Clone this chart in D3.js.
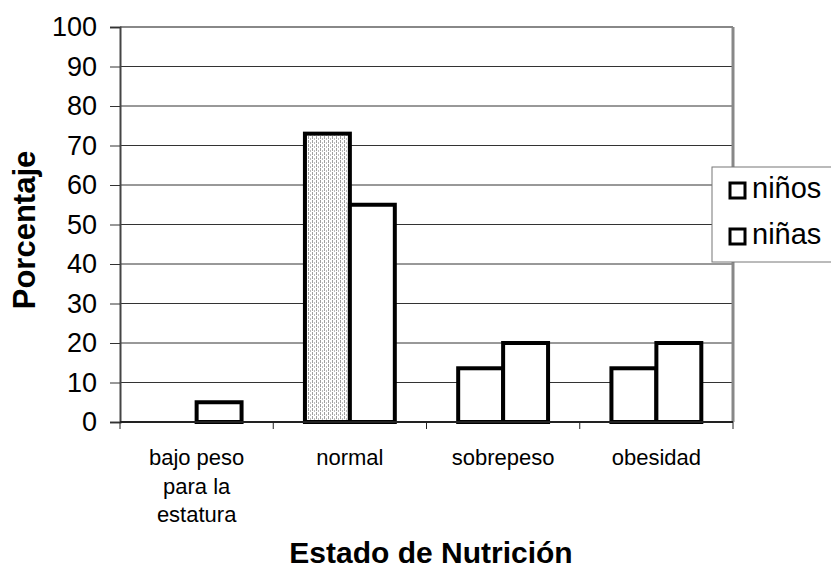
<!DOCTYPE html>
<html>
<head>
<meta charset="utf-8">
<script src="https://cdn.jsdelivr.net/npm/d3@7"></script>
<style>
  html, body { margin: 0; padding: 0; background: #fff; }
  svg { display: block; font-family: "Liberation Sans", Arial, sans-serif; }
</style>
</head>
<body>
<svg id="chart" width="831" height="570"></svg>
<script>
// Nutritional status by sex (percent)
const categories = [["bajo peso", "para la", "estatura"], ["normal"], ["sobrepeso"], ["obesidad"]];
const series = ["niños", "niñas"];
const ninos = [0, 73, 13.6, 13.6];
const ninas = [5, 55, 20, 20];
const yTicks = [0, 10, 20, 30, 40, 50, 60, 70, 80, 90, 100];

const svg = d3.select("#chart");
const plot = { left: 120, right: 733, top: 27, bottom: 422 };
const FONT = "'Liberation Sans', Arial, sans-serif";

const defs = svg.append("defs");
const pat = defs.append("pattern")
  .attr("id", "dots").attr("patternUnits", "userSpaceOnUse")
  .attr("width", 4).attr("height", 4);
pat.append("rect").attr("width", 4).attr("height", 4).attr("fill", "#fff");
pat.append("rect").attr("x", 0).attr("y", 0).attr("width", 1).attr("height", 3).attr("fill", "#a0a0a0");
pat.append("rect").attr("x", 2).attr("y", 2).attr("width", 1).attr("height", 3).attr("fill", "#bcbcbc");

const catKeys = categories.map((c, i) => i);
const x = d3.scaleBand().domain(catKeys).range([plot.left, plot.right]).padding(0);
const xSub = d3.scaleBand().domain(series).range([0, x.bandwidth()]).paddingInner(0).paddingOuter(0.705);
const y = d3.scaleLinear().domain([0, 100]).range([plot.bottom, plot.top]);

// horizontal gridlines
svg.append("g").selectAll("line").data(yTicks.filter(t => t > 0)).join("line")
  .attr("x1", plot.left).attr("x2", plot.right)
  .attr("y1", d => y(d)).attr("y2", d => y(d))
  .attr("stroke", d => d === 100 ? "#888" : "#333").attr("stroke-width", d => d === 100 ? 2 : 1);

// right border of plot area
svg.append("line").attr("x1", plot.right).attr("x2", plot.right)
  .attr("y1", plot.top).attr("y2", plot.bottom)
  .attr("stroke", "#888").attr("stroke-width", 3);

// bars
const rows = [];
catKeys.forEach(i => {
  rows.push({ cat: i, s: "niños", v: ninos[i] });
  rows.push({ cat: i, s: "niñas", v: ninas[i] });
});
svg.append("g").selectAll("rect").data(rows.filter(d => d.v > 0)).join("rect")
  .attr("x", d => x(d.cat) + xSub(d.s))
  .attr("width", xSub.bandwidth())
  .attr("y", d => y(d.v))
  .attr("height", d => y(0) - y(d.v))
  .attr("fill", d => (d.s === "niños" && d.cat === 1) ? "url(#dots)" : "#fff")
  .attr("stroke", "#000").attr("stroke-width", 4);

// y axis
const yAxis = svg.append("g").attr("transform", `translate(${plot.left},0)`)
  .call(d3.axisLeft(y).tickValues(yTicks).tickSize(10).tickPadding(13).tickFormat(d3.format("d")));
yAxis.select(".domain").attr("stroke", "#444").attr("stroke-width", 2);
yAxis.selectAll(".tick line").attr("stroke", "#333");
yAxis.selectAll("text").attr("font-size", 27).attr("fill", "#000").attr("font-family", FONT);

// x axis baseline and category separators
const xg = svg.append("g");
xg.append("line").attr("x1", plot.left).attr("x2", plot.right)
  .attr("y1", plot.bottom).attr("y2", plot.bottom).attr("stroke", "#222").attr("stroke-width", 2);
xg.selectAll("line.sep").data(d3.range(categories.length + 1)).join("line").attr("class", "sep")
  .attr("x1", d => plot.left + d * x.step()).attr("x2", d => plot.left + d * x.step())
  .attr("y1", plot.bottom).attr("y2", plot.bottom + 7).attr("stroke", "#222").attr("stroke-width", 1);

// category labels
const lbl = xg.selectAll("text.cat").data(catKeys).join("text").attr("class", "cat")
  .attr("text-anchor", "middle").attr("font-size", 22).attr("fill", "#000");
lbl.each(function(i) {
  const t = d3.select(this);
  categories[i].forEach((line, k) => {
    t.append("tspan").attr("x", x(i) + x.bandwidth() / 2).attr("y", 465 + k * 28.5).text(line);
  });
});

// axis titles
svg.append("text").attr("x", 431).attr("y", 563).attr("text-anchor", "middle")
  .attr("font-size", 30).attr("font-weight", "bold").text("Estado de Nutrición");
svg.append("text").attr("transform", "translate(35,230) rotate(-90)").attr("text-anchor", "middle")
  .attr("font-size", 31).attr("font-weight", "bold").text("Porcentaje");

// legend
const lg = svg.append("g").attr("transform", "translate(712,167)");
lg.append("rect").attr("width", 125).attr("height", 95).attr("fill", "#fff")
  .attr("stroke", "#777").attr("stroke-width", 1);
const li = lg.selectAll("g.item").data(series).join("g").attr("class", "item")
  .attr("transform", (d, i) => `translate(0,${i * 46})`);
li.append("rect").attr("x", 18).attr("y", 16).attr("width", 15).attr("height", 15)
  .attr("fill", "#fff").attr("stroke", "#000").attr("stroke-width", 3);
li.append("text").attr("x", 40).attr("y", 31).attr("font-size", 29).attr("fill", "#000").text(d => d);
</script>
</body>
</html>
